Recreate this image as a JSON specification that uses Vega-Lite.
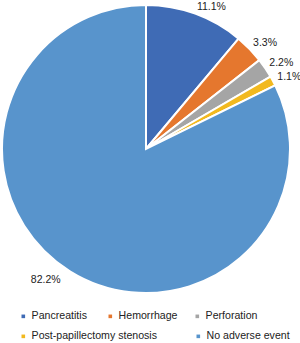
{
  "$schema": "https://vega.github.io/schema/vega-lite/v6.json",
  "width": 292,
  "height": 298,
  "autosize": {"type": "none"},
  "padding": {"top": 0, "left": 0, "right": 8, "bottom": 45},
  "background": "white",
  "config": {"view": {"stroke": null}, "font": "Liberation Sans"},
  "data": {
    "values": [
      {"label": "Pancreatitis", "value": 11.1, "pct": "11.1%", "rank": 1},
      {"label": "Hemorrhage", "value": 3.3, "pct": "3.3%", "rank": 2},
      {"label": "Perforation", "value": 2.2, "pct": "2.2%", "rank": 3},
      {"label": "Post-papillectomy stenosis", "value": 1.1, "pct": "1.1%", "rank": 4},
      {"label": "No adverse event", "value": 82.2, "pct": "82.2%", "rank": 5}
    ]
  },
  "encoding": {
    "theta": {"field": "value", "type": "quantitative", "stack": true},
    "order": {"field": "rank", "type": "quantitative"}
  },
  "layer": [
    {
      "mark": {"type": "arc", "radius": 144, "stroke": "white", "strokeWidth": 2},
      "encoding": {
        "color": {
          "field": "label",
          "type": "nominal",
          "scale": {
            "domain": ["Pancreatitis", "Hemorrhage", "Perforation", "Post-papillectomy stenosis", "No adverse event"],
            "range": ["#3F6BB5", "#E5772E", "#A5A5A5", "#F2B91F", "#5894CC"]
          },
          "legend": {
            "values": ["Pancreatitis", "Hemorrhage", "Perforation"],
            "title": null,
            "orient": "none",
            "direction": "horizontal",
            "legendX": 18,
            "legendY": 311,
            "padding": 0,
            "gridAlign": "all",
            "symbolType": "square",
            "symbolSize": 13,
            "symbolStrokeWidth": 0,
            "labelFont": "Liberation Sans",
            "labelFontSize": 10.6,
            "labelColor": "#222222",
            "labelOffset": 3,
            "columnPadding": 14
          }
        }
      }
    },
    {
      "mark": {"type": "arc", "radius": 144, "stroke": "white", "strokeWidth": 2},
      "encoding": {
        "color": {
          "field": "label",
          "type": "nominal",
          "scale": {
            "domain": ["Pancreatitis", "Hemorrhage", "Perforation", "Post-papillectomy stenosis", "No adverse event"],
            "range": ["#3F6BB5", "#E5772E", "#A5A5A5", "#F2B91F", "#5894CC"]
          },
          "legend": {
            "values": ["Post-papillectomy stenosis", "No adverse event"],
            "title": null,
            "orient": "none",
            "direction": "horizontal",
            "legendX": 18,
            "legendY": 331,
            "padding": 0,
            "symbolType": "square",
            "symbolSize": 13,
            "symbolStrokeWidth": 0,
            "labelFont": "Liberation Sans",
            "labelFontSize": 10.6,
            "labelColor": "#222222",
            "labelOffset": 3,
            "labelExpr": "datum.label == 'Post-papillectomy stenosis' ? '\u00a0\u00a0' + datum.label : datum.label",
            "columnPadding": 35
          }
        }
      }
    },
    {
      "mark": {"type": "text", "radius": 149, "align": "left", "baseline": "middle", "dy": -2, "font": "Liberation Sans", "fontSize": 10.5, "fill": "#222222"},
      "encoding": {
        "text": {"field": "pct", "type": "nominal"},
        "opacity": {"condition": {"test": "datum.rank == 5", "value": 0}, "value": 1}
      }
    },
    {
      "mark": {"type": "text", "radius": 154, "align": "right", "baseline": "middle", "dx": -4, "font": "Liberation Sans", "fontSize": 10.5, "fill": "#222222"},
      "encoding": {
        "text": {"field": "pct", "type": "nominal"},
        "opacity": {"condition": {"test": "datum.rank == 5", "value": 1}, "value": 0}
      }
    }
  ],
  "resolve": {"scale": {"color": "independent"}, "legend": {"color": "independent"}}
}
